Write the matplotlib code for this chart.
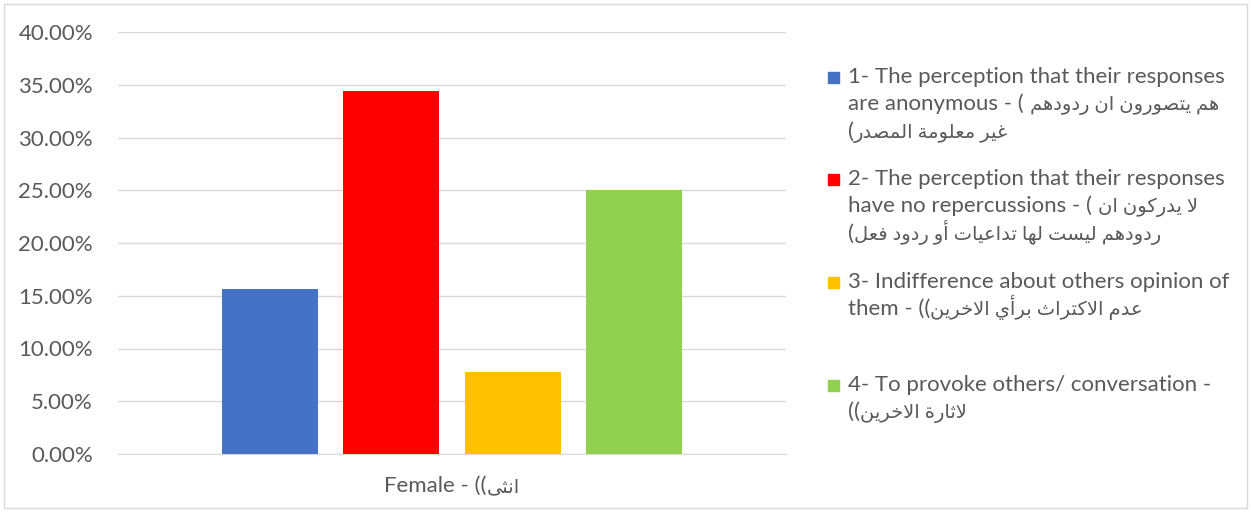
import matplotlib
matplotlib.use("Agg")
import matplotlib.pyplot as plt
from matplotlib.patches import Rectangle
from matplotlib.ticker import FuncFormatter

# ---------------- data ----------------
category = ("Female - ((", "انثى")
series_values = [0.15625, 0.34375, 0.078125, 0.25]
series_colors = ["#4472C4", "#FF0000", "#FFC000", "#92D050"]
# legend labels: list of lines, each line = (left-to-right prefix, arabic part)
legend_lines = [
    [("1- The perception that their responses", ""),
     ("are anonymous - ( ", "هم يتصورون ان ردودهم"),
     ("(", "غير معلومة المصدر")],
    [("2- The perception that their responses", ""),
     ("have no repercussions - ( ", "لا يدركون ان"),
     ("(", "ردودهم ليست لها تداعيات أو ردود فعل")],
    [("3- Indifference about others opinion of", ""),
     ("them - ((", "عدم الاكتراث برأي الاخرين")],
    [("4- To provoke others/ conversation -", ""),
     ("((", "لاثارة الاخرين")],
]
y_ticks = [0, 0.05, 0.10, 0.15, 0.20, 0.25, 0.30, 0.35, 0.40]

# ------------- simple arabic shaping (presentation forms) -------------
DUAL = {'ب': 0xFE8F, 'ت': 0xFE95, 'ث': 0xFE99, 'ج': 0xFE9D, 'ح': 0xFEA1,
        'خ': 0xFEA5, 'س': 0xFEB1, 'ش': 0xFEB5, 'ص': 0xFEB9, 'ض': 0xFEBD,
        'ط': 0xFEC1, 'ظ': 0xFEC5, 'ع': 0xFEC9, 'غ': 0xFECD, 'ف': 0xFED1,
        'ق': 0xFED5, 'ك': 0xFED9, 'ل': 0xFEDD, 'م': 0xFEE1, 'ن': 0xFEE5,
        'ه': 0xFEE9, 'ي': 0xFEF1, 'ئ': 0xFE89}
RIGHT = {'ا': 0xFE8D, 'أ': 0xFE83, 'إ': 0xFE87, 'آ': 0xFE81, 'ة': 0xFE93,
         'د': 0xFEA9, 'ذ': 0xFEAB, 'ر': 0xFEAD, 'ز': 0xFEAF, 'و': 0xFEED,
         'ؤ': 0xFE85, 'ى': 0xFEEF, '\uFEFB': 0xFEFB, '\uFEF7': 0xFEF7,
         '\uFEF9': 0xFEF9}


def visual_arabic(s):
    s = s.replace('لا', '\uFEFB').replace('لأ', '\uFEF7').replace('لإ', '\uFEF9')
    out = []
    for i, c in enumerate(s):
        prev = s[i - 1] if i > 0 else ''
        nxt = s[i + 1] if i < len(s) - 1 else ''
        jp = prev in DUAL
        if c in DUAL:
            jn = (nxt in DUAL) or (nxt in RIGHT)
            form = 3 if (jp and jn) else 2 if jn else 1 if jp else 0
            out.append(chr(DUAL[c] + form))
        elif c in RIGHT:
            out.append(chr(RIGHT[c] + (1 if jp else 0)))
        else:
            out.append(c)
    return ''.join(out)[::-1]


# ---------------- figure ----------------
plt.rcParams['font.family'] = ['Lato', 'DejaVu Sans']
TEXT = "#595959"
W, H = 1251, 512
fig = plt.figure(figsize=(W / 100, H / 100), dpi=100)
fig.patch.set_facecolor("white")
fig.patches.append(Rectangle((4 / W, 4 / H), (W - 8) / W, (H - 8) / H,
                             transform=fig.transFigure, fill=False,
                             edgecolor="#D9D9D9", lw=1))
renderer = fig.canvas.get_renderer()

ax = fig.add_axes([118 / W, (H - 454) / H, 668 / W, 422 / H])
n = len(series_values)
step = 0.1816
width = 0.1437
for i, (v, c) in enumerate(zip(series_values, series_colors)):
    ax.bar((i - (n - 1) / 2) * step, v, width=width, color=c, zorder=3)

ax.set_xlim(-0.5, 0.5)
ax.set_ylim(0, 0.40)
ax.set_yticks(y_ticks)
ax.yaxis.set_major_formatter(FuncFormatter(lambda v, p: f"{v * 100:.2f}%"))
ax.grid(axis="y", color="#D9D9D9", lw=1, zorder=0)
for s in ["top", "right", "left"]:
    ax.spines[s].set_visible(False)
ax.spines["bottom"].set_color("#D9D9D9")
ax.tick_params(axis="both", length=0, labelsize=16, colors=TEXT, pad=18)
ax.set_xticks([])


def mixed_text(x_px, base_px, prefix, arabic, ha="left", fs=16, fs_ar=14):
    """Draw LTR prefix followed by a shaped Arabic run, on one baseline."""
    t1 = fig.text(x_px / W, 1 - base_px / H, prefix, fontsize=fs, color=TEXT,
                  va="baseline", ha="left")
    w1 = t1.get_window_extent(renderer).width if prefix else 0
    t2 = None
    w2 = 0
    if arabic:
        t2 = fig.text(0, 1 - base_px / H, visual_arabic(arabic), fontsize=fs_ar,
                      color=TEXT, va="baseline", ha="left")
        w2 = t2.get_window_extent(renderer).width
    x0 = x_px - (w1 + w2) / 2 if ha == "center" else x_px
    t1.set_x(x0 / W)
    if t2 is not None:
        t2.set_x((x0 + w1) / W)


# category label under the bars
mixed_text(452, 492, category[0], category[1], ha="center")

# ---------------- legend ----------------
first_line_y = [77, 179, 282, 385]
line_gap = 27.3
for i, lines in enumerate(legend_lines):
    y0 = first_line_y[i]
    fig.patches.append(Rectangle((828 / W, 1 - (y0 + 5.5) / H), 11 / W, 11 / H,
                                 transform=fig.transFigure,
                                 color=series_colors[i]))
    for j, (pre, ar) in enumerate(lines):
        mixed_text(848, y0 + j * line_gap + 6, pre, ar)

fig.savefig("out.png", dpi=100)
